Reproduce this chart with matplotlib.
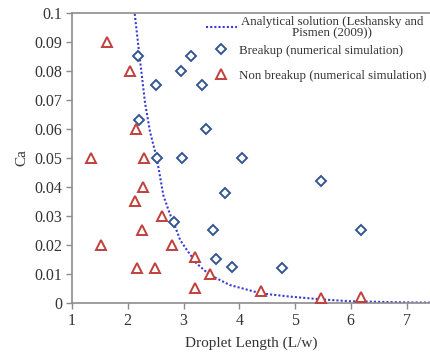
import matplotlib
matplotlib.use("Agg")
import matplotlib.pyplot as plt

# Analytical solution curve
curve_L = [2.10, 2.20, 2.31, 2.40, 2.52, 2.64, 2.75, 2.85, 2.94, 3.06, 3.23,
           3.47, 3.83, 4.39, 4.91, 5.50, 6.00, 6.50, 7.00, 7.50]
curve_Ca = [0.104, 0.087, 0.069, 0.059, 0.050, 0.037, 0.031, 0.0263, 0.0217,
            0.0183, 0.0137, 0.0097, 0.0062, 0.0033, 0.0022, 0.0012, 0.0006,
            0.0004, 0.0002, 0.0001]

# Breakup (numerical simulation)
breakup_L = [2.18, 2.51, 2.95, 3.13, 3.34, 2.21, 2.52, 2.98, 3.40, 4.04,
             3.75, 2.83, 3.53, 3.59, 3.87, 4.76, 5.46, 6.18]
breakup_Ca = [0.085, 0.075, 0.080, 0.085, 0.075, 0.063, 0.050, 0.050, 0.060,
              0.050, 0.038, 0.028, 0.025, 0.015, 0.0125, 0.012, 0.042, 0.025]

# Non breakup (numerical simulation)
nonbreak_L = [1.62, 2.04, 2.15, 1.34, 2.30, 2.28, 2.13, 2.61, 2.25, 1.52,
              2.79, 2.17, 2.49, 3.20, 3.20, 3.47, 4.39, 5.46, 6.18]
nonbreak_Ca = [0.090, 0.080, 0.060, 0.050, 0.050, 0.040, 0.035, 0.030, 0.025,
               0.020, 0.020, 0.012, 0.012, 0.016, 0.005, 0.010, 0.004, 0.0016,
               0.0022]

x_ticks = [1, 2, 3, 4, 5, 6, 7]
y_ticks = [0, 0.01, 0.02, 0.03, 0.04, 0.05, 0.06, 0.07, 0.08, 0.09, 0.1]
y_tick_labels = ["0", "0.01", "0.02", "0.03", "0.04", "0.05", "0.06",
                 "0.07", "0.08", "0.09", "0.1"]

plt.rcParams['font.family'] = ['Liberation Serif', 'DejaVu Serif']
txt_color = '#333333'
spine_color = '#8c8c8c'

fig = plt.figure(figsize=(4.30, 3.56), dpi=100)
ax = fig.add_axes([0.1674, 0.1489, 1 - 0.1674, 0.9635 - 0.1489])

line_h, = ax.plot(curve_L, curve_Ca, linestyle=(0, (1, 1)), color='#3b3bd0',
                  linewidth=1.5, label='Analytical solution (Leshansky and\nPismen (2009))',
                  zorder=2)
br_h, = ax.plot(breakup_L, breakup_Ca, linestyle='none', marker='D',
                markersize=5.2, markerfacecolor='white', markeredgecolor='#34568f',
                markeredgewidth=1.4, label='Breakup (numerical simulation)', zorder=3)
nb_h, = ax.plot(nonbreak_L, nonbreak_Ca, linestyle='none', marker='^',
                markersize=7, markerfacecolor='white', markeredgecolor='#c0403c',
                markeredgewidth=1.4, label='Non breakup (numerical simulation)', zorder=3)

ax.set_xlim(1, 7.42)
ax.set_ylim(0, 0.1)
ax.set_xticks(x_ticks)
ax.set_yticks(y_ticks)
ax.set_yticklabels(y_tick_labels)
ax.tick_params(axis='both', direction='out', length=4, width=1, color=spine_color,
               labelsize=11.5, labelcolor=txt_color, pad=3)
for s in ['left', 'bottom', 'top']:
    ax.spines[s].set_color(spine_color)
    ax.spines[s].set_linewidth(1.2)
ax.spines['right'].set_visible(False)

ax.set_xlabel('Droplet Length (L/w)', fontsize=11, color=txt_color, labelpad=5.5)
ax.set_ylabel('Ca', fontsize=11, color=txt_color, labelpad=4)

leg1 = ax.legend(handles=[line_h], loc='upper left', bbox_to_anchor=(0.368, 1.0),
                 frameon=False, fontsize=9.3, handlelength=2.4, handletextpad=0.25,
                 borderpad=0.2, borderaxespad=0.0)
for t in leg1.get_texts():
    t.set_multialignment('center')
    t.set_linespacing(0.95)
    t.set_color(txt_color)
ax.add_artist(leg1)

leg2 = ax.legend(handles=[br_h, nb_h], loc='upper left', bbox_to_anchor=(0.372, 0.89),
                 frameon=False, fontsize=9.3, handlelength=2.4, handletextpad=0.25,
                 labelspacing=1.0, borderpad=0.0, borderaxespad=0.0)
for t in leg2.get_texts():
    t.set_color(txt_color)

fig.savefig('out.png', dpi=100)
